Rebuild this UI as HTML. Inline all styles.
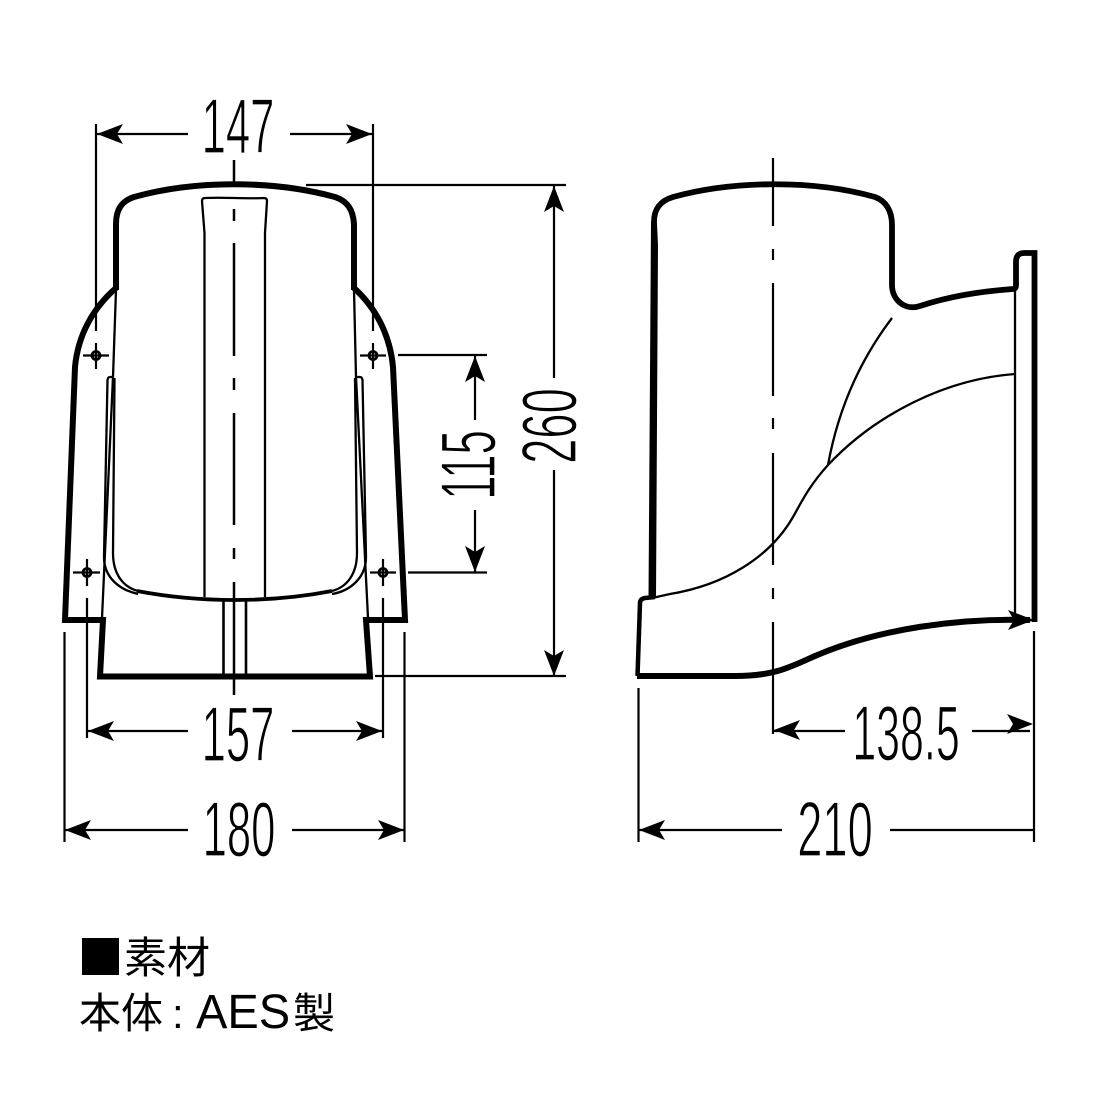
<!DOCTYPE html>
<html><head><meta charset="utf-8"><style>
html,body{margin:0;padding:0;background:#fff}
svg{display:block}
.t{font-family:"Liberation Sans",sans-serif;font-size:78px;text-anchor:middle;fill:#000;stroke:#fff;stroke-width:1.3px}
.j{font-family:"Liberation Sans","Noto Sans CJK JP",sans-serif;font-size:42px;fill:#000}
</style></head><body>
<svg width="1100" height="1100" viewBox="0 0 1100 1100" xmlns="http://www.w3.org/2000/svg">
<defs><path id="a" d="M0 0L26-10 20 0 26 10Z"/></defs>
<rect width="1100" height="1100" fill="#fff"/>

<!-- LEFT VIEW outline -->
<g fill="none" stroke="#000" stroke-linejoin="miter">
<path stroke-width="6" d="M116 290L116 224C116 209 122 201 134 197C195 180 273 180 335 197C347 201 353 209 354 224L354 290"/>
<path stroke-width="6" d="M116 288C93 308 78 335 75 367L65 620L103 620L100 676.500L370 676.500L366 620L405 620L393 367C390 335 376 308 354 288"/>
<g stroke-width="2.300">
<path d="M116 290L113 377L102 618"/><path d="M354 290L356 377L368 618"/>
<path d="M113 377L110 377Q108 377 107.500 380L104 557C104 578 120 590 138 594"/>
<path d="M357 377L360 377Q362 377 362.500 380L366 557C366 578 350 591 332 594"/>
<path d="M114.500 378L113 553C113 574 123 587 138 591"/>
<path d="M355 378L357 553C357 574 347 587 332 591"/>
</g>
<path stroke-width="3.800" d="M137 591C200 603 270 603 332 591"/>
<path stroke-width="2.300" d="M204.500 597V233L202 201Q202 198 205 198C225 197 245 199 264 198Q267 198 267 201L265 233V597"/>
<path stroke-width="2.600" d="M223.500 600V676M246 600V676"/>
</g>

<!-- RIGHT VIEW outline -->
<path fill="#000" d="M651 222L656.900 222L658 245L656 598L648.500 598Z"/>
<g fill="none" stroke="#000">
<path stroke-width="5.800" d="M654 222C654 209 660 201 673 197C735 180 815 180 875 197C886 201 892 211 892 225L892 285C892 300 905 311 920 306C950 296 985 291 1013 289Q1016 289 1016 285L1016 262Q1016 253 1024 253L1034.500 253L1034.500 622"/>
<path stroke-width="6" d="M1030 620C960 618 880 628 815 656C790 667 775 676 735 676L637 676"/>
<path stroke-width="4.500" d="M637.500 676L640 603Q640 599 645 598L655 597"/>
<g stroke-width="2.300">
<path d="M1015 290V620"/>
<path d="M1015 374C945 379 875 415 828 465C808 487 800 505 793 517C770 557 725 585 670 594L652 598"/>
<path d="M892 318C860 360 838 410 828 465"/>
</g>
</g>
<use href="#a" transform="translate(1034 620) rotate(180)"/>

<!-- dimension / centre lines -->
<g fill="none" stroke="#000" stroke-width="2.200">
<path stroke-width="2.500" d="M234 160V184M234 209V221M234 243V356M234 378V390M234 413V525M234 548V559M234 582V695"/>
<path d="M773 158V226M773 249V260M773 283V396M773 418V429M773 453V565M773 588V599M773 622V734"/>
<path d="M96 124V331M96 343V369M83 355.500H109"/>
<path d="M373 124V331M373 343V369M360 355.500H386"/>
<path d="M87 559V586M73 572.500H100M87 598V738"/>
<path d="M383 559V586M370 572.500H396M383 598V738"/>
<path d="M64.500 632V842M404.500 632V842"/>
<path d="M638.500 688V842M1034 631V842"/>
<path d="M306 185H566M375 676H566M398 355H487M408 572.500H487"/>
<path d="M96 134H188M290 134H372"/>
<path d="M87 731H188M292 731H382"/>
<path d="M65 830H188M292 830H404"/>
<path d="M475 356V420M475 510V572"/>
<path d="M554 185V378M554 470V676"/>
<path d="M773 731H845M972 731H1030"/>
<path d="M638 830H782M890 830H1034"/>
</g>
<g fill="none" stroke="#000" stroke-width="2.800">
<circle cx="96" cy="355.500" r="4"/><circle cx="373" cy="355.500" r="4"/><circle cx="87" cy="572.500" r="4"/><circle cx="383" cy="572.500" r="4"/>
</g>

<!-- arrowheads -->
<use href="#a" transform="translate(97 134)"/>
<use href="#a" transform="translate(372 134) rotate(180)"/>
<use href="#a" transform="translate(88 731)"/>
<use href="#a" transform="translate(382 731) rotate(180)"/>
<use href="#a" transform="translate(65 830)"/>
<use href="#a" transform="translate(404 830) rotate(180)"/>
<use href="#a" transform="translate(475 356) rotate(90)"/>
<use href="#a" transform="translate(475 572) rotate(-90)"/>
<use href="#a" transform="translate(554 186) rotate(90)"/>
<use href="#a" transform="translate(554 676) rotate(-90)"/>
<use href="#a" transform="translate(774 730)"/>
<use href="#a" transform="translate(1033 724) rotate(180)"/>
<use href="#a" transform="translate(639 830)"/>

<!-- dimension labels -->
<text class="t" transform="translate(238 153) scale(.56 1)">147</text>
<text class="t" transform="translate(238 761) scale(.56 1)">157</text>
<text class="t" transform="translate(239 856) scale(.56 1)">180</text>
<text class="t" transform="translate(835 856) scale(.58 1)">210</text>
<text class="t" transform="translate(906 760) scale(.55 1)">138.5</text>
<text class="t" transform="translate(495 465) rotate(-90) scale(.56 1)">115</text>
<text class="t" transform="translate(576 426) rotate(-90) scale(.58 1)">260</text>

<!-- material note -->
<rect x="82" y="938" width="37" height="37" fill="#000"/>
<text class="j" x="124" y="973" style="font-size:43px">素材</text>
<text class="j" x="79" y="1028">本体</text>
<text class="j" x="172" y="1028">:</text>
<text class="j" transform="translate(196 1028) scale(.98 1)" style="font-size:48px">AES</text>
<text class="j" x="293" y="1028">製</text>
</svg>
</body></html>
